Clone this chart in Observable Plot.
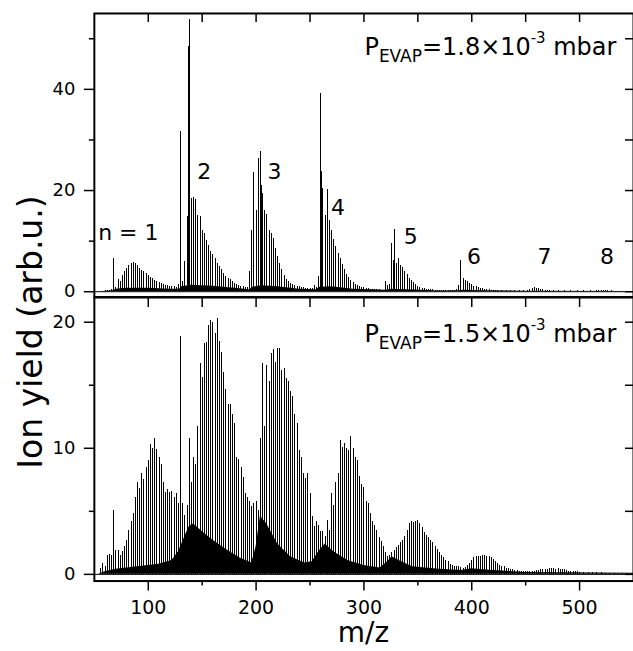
<!DOCTYPE html>
<html><head><meta charset="utf-8">
<script src="https://cdn.jsdelivr.net/npm/d3@7"></script>
<script src="https://cdn.jsdelivr.net/npm/@observablehq/plot@0.6"></script>
<style>
html,body{margin:0;padding:0;background:#fff;overflow:hidden;}
#wrap{position:relative;width:633px;height:651px;overflow:hidden;background:#fff;font-family:"DejaVu Sans",sans-serif;}
#wrap svg{display:block;position:relative;}
#ytitle{position:absolute;left:30px;top:332px;transform:translate(-50%,-50%) rotate(-90deg);font-size:33px;white-space:nowrap;line-height:1;color:#000;z-index:2;}
</style></head><body><div id="wrap"><div id="ytitle">Ion yield (arb.u.)</div></div>
<script>
// ---- data: [m/z, ion yield] ----
const topSticks = [
[56,0.1],[58,0.1],[60,0.2],[62,0.25],[64,0.3],[66,0.5],[68,6.6],[70,0.8],[72,2.5],[74,2.0],[76,3.3],[78,3.9],[80,4.6],[82,5.2],[84,5.6],[86,5.7],[88,5.5],[90,5.1],[92,4.6],[94,4.2],[96,3.9],[98,3.6],[100,3.2],[102,2.9],[104,2.6],[106,2.3],[108,2.0],[110,1.8],[112,1.6],[114,1.4],[116,1.3],[118,1.2],[120,1.1],[122,1.0],[124,1.0],[126,0.9],[128,1.5],
[130,31.6],[132,2.0],[134,6.0],[136,14.8],[137,48.4],[138,53.8],[140,18.4],[142,18.6],[144,18.2],[146,15.1],[148,14.8],[150,12.2],[152,11.5],[154,10.2],[156,9.2],[158,8.0],[160,7.3],[162,6.5],[164,5.6],[166,5.0],[168,4.3],[170,3.6],[172,3.1],[174,2.7],[176,2.4],[178,2.0],[180,1.7],[182,1.5],[184,1.3],[186,1.1],[188,1.0],[190,0.9],[192,0.8],
[194,3.9],[196,12.1],[198,23.6],[200,16.1],[202,26.4],[204,27.8],[205,21.0],[206,19.5],[208,16.0],[210,15.2],[212,12.2],[214,11.5],[216,10.6],[218,8.6],[220,7.0],[222,5.6],[224,4.3],[226,3.2],[228,2.5],[230,2.0],[232,1.7],[234,1.4],[236,1.2],[238,1.1],[240,1.0],[242,0.9],[244,0.8],[246,0.7],[248,0.7],[250,0.6],[252,0.6],[254,1.3],[256,0.8],[258,3.0],
[260,39.2],[261,23.7],[262,20.5],[264,15.0],[266,20.2],[268,14.0],[270,12.2],[272,10.3],[274,8.9],[276,7.6],[278,6.6],[280,5.4],[282,4.4],[284,3.5],[286,2.8],[288,2.3],[290,1.8],[292,1.5],[294,1.2],[296,1.0],[298,0.9],[300,0.8],[302,0.7],[304,0.6],[306,0.5],[308,0.5],[310,0.4],[312,0.4],[314,0.35],[316,0.3],[318,0.3],
[320,2.0],[322,1.3],[324,1.4],[326,9.5],[327,6.2],[328,12.3],[330,5.6],[332,6.6],[334,5.2],[336,4.7],[338,4.0],[340,3.4],[342,2.7],[344,2.2],[346,1.8],[348,1.4],[350,1.1],[352,0.9],[354,0.7],[356,0.6],[358,0.5],[360,0.45],[362,0.4],[364,0.35],[366,0.3],[368,0.3],[370,0.25],[372,0.25],[374,0.2],[376,0.2],[378,0.2],[380,0.2],[382,0.2],[384,0.25],
[386,0.4],[388,1.3],[390,6.1],[392,2.6],[394,2.2],[396,2.0],[398,1.7],[400,1.4],[402,1.1],[404,1.0],[406,0.9],[408,0.7],[410,0.6],[412,0.5],[414,0.4],[416,0.35],[418,0.3],[420,0.25],[422,0.2],[424,0.2],[428,0.15],[432,0.15],[436,0.15],[440,0.15],[444,0.15],[448,0.15],
[452,0.2],[454,0.4],[456,0.7],[458,0.8],[460,0.7],[462,0.6],[464,0.5],[466,0.4],[468,0.3],[470,0.25],[472,0.2],[476,0.15],[480,0.15],[486,0.15],[492,0.15],[498,0.15],[504,0.15],[510,0.15],[516,0.15],
[518,0.2],[520,0.3],[522,0.3],[524,0.25],[526,0.2],[530,0.15],[536,0.12],[542,0.1],[548,0.1]
];
const topBackground = [
[56,0],[60,0.1],[67,0.2],[70,0.5],[80,0.7],[100,0.7],[120,0.5],[129,0.5],[131,1.0],[140,1.3],[160,1.1],[180,0.7],[194,0.4],[197,0.9],[205,1.2],[220,1.0],[240,0.5],[256,0.4],[259,0.9],[270,1.0],[290,0.5],[320,0.3],[326,0.5],[340,0.4],[370,0.15],[388,0.2],[392,0.3],[410,0.2],[450,0.1],[550,0.05]
];
const bottomSticks = [
[56,0.5],[58,0.9],[60,0.6],[62,1.5],[64,1.6],[66,1.5],[68,5.1],[70,1.9],[72,1.9],[74,1.5],[76,1.8],[78,2.2],[80,2.7],[82,3.5],[84,4.2],[86,4.8],[88,6.1],[90,7.3],[92,6.8],[94,8.0],[96,7.5],[98,8.5],[100,9.0],[102,10.3],[104,10.0],[106,10.8],[108,9.9],[110,9.3],[112,8.7],[114,7.3],[116,6.5],[118,6.7],[120,6.5],[122,6.6],[124,6.1],[126,6.4],[128,5.6],
[130,18.9],[132,5.6],[134,4.7],[136,5.5],[138,10.8],[140,7.3],[142,9.3],[144,8.7],[146,11.7],[148,16.7],[150,15.6],[152,18.3],[154,18.4],[156,19.7],[158,20.1],[160,20.0],[162,19.1],[164,20.3],[166,18.5],[168,17.6],[170,16.0],[172,14.7],[174,13.5],[176,13.5],[178,12.7],[180,12.0],[182,9.3],[184,9.1],[186,8.5],[188,7.7],[190,6.4],[192,6.1],[194,5.8],[196,5.4],[198,5.6],
[200,5.8],[202,5.1],[204,10.8],[206,16.7],[208,11.7],[210,16.6],[212,15.3],[214,17.5],[216,17.8],[218,16.8],[220,17.9],[222,17.9],[224,16.2],[226,16.3],[228,15.5],[230,15.3],[232,14.5],[234,14.1],[236,12.7],[238,12.0],[240,9.8],[242,9.3],[244,8.0],[246,7.6],[248,8.0],[250,6.4],[252,4.6],[254,3.8],[256,4.2],[258,3.9],[260,3.4],[262,3.4],[264,3.0],[266,4.3],[268,3.5],
[270,6.4],[272,5.5],[274,7.3],[276,8.0],[278,10.6],[280,10.1],[282,10.4],[284,10.0],[286,9.8],[288,10.9],[290,10.0],[292,9.3],[294,9.0],[296,7.8],[298,7.1],[300,6.9],[302,5.8],[304,5.6],[306,4.8],[308,4.2],[310,3.9],[312,3.5],[314,2.9],[316,2.6],[318,2.2],[320,1.7],[322,1.4],
[324,1.5],[326,1.7],[328,1.9],[330,2.1],[332,2.3],[334,2.5],[336,2.7],[338,3.0],[340,3.5],[342,4.0],[344,4.2],[346,4.1],[348,4.2],[350,4.25],[352,4.0],[354,3.7],[356,3.3],[358,3.1],[360,2.9],[362,2.7],[364,2.5],[366,2.2],[368,2.0],[370,1.7],[372,1.5],[374,1.3],[376,1.1],[378,1.0],[380,0.8],[382,0.7],[384,0.65],[386,0.6],[388,0.6],[390,0.55],[392,0.5],
[394,0.55],[396,0.7],[398,0.9],[400,1.1],[402,1.3],[404,1.4],[406,1.4],[408,1.45],[410,1.5],[412,1.5],[414,1.45],[416,1.4],[418,1.3],[420,1.15],[422,1.0],[424,0.85],[426,0.7],[428,0.65],[430,0.6],[432,0.5],[434,0.5],[436,0.4],[438,0.4],[440,0.3],[442,0.3],[444,0.25],[446,0.2],[448,0.2],[450,0.2],[452,0.2],[454,0.2],[456,0.2],
[458,0.25],[460,0.3],[462,0.3],[464,0.35],[466,0.35],[468,0.4],[470,0.4],[472,0.45],[474,0.45],[476,0.45],[478,0.4],[480,0.45],[482,0.4],[484,0.4],[486,0.35],[488,0.3],[490,0.25],[492,0.25],[494,0.2],[496,0.2],[498,0.2],[500,0.15],[504,0.15],[508,0.15],[512,0.12],[516,0.12],[520,0.12],[524,0.1],[528,0.1],[532,0.1],[536,0.1],[540,0.1],[544,0.1],[548,0.1]
];
const bottomBackground = [
[54,0],[60,0.2],[70,0.4],[90,0.6],[110,0.8],[122,1.1],[128,1.8],[133,2.8],[138,3.8],[142,4.0],[150,3.4],[160,2.7],[172,2.0],[185,1.3],[196,0.9],[200,2.2],[204,4.6],[210,4.0],[220,2.4],[232,1.4],[245,0.9],[252,1.0],[258,1.8],[264,2.4],[272,1.8],[285,1.1],[300,0.7],[315,0.5],[322,1.0],[326,1.4],[335,1.0],[345,0.6],[370,0.4],[390,0.3],[400,0.45],[420,0.3],[450,0.15],[550,0.08]
];
const clusterLabels = [
 {label:"n = 1", mz:81.5, y:11.6},
 {label:"2", mz:152, y:23.6},
 {label:"3", mz:217, y:23.6},
 {label:"4", mz:276, y:16.5},
 {label:"5", mz:343.5, y:10.8},
 {label:"6", mz:402, y:6.85},
 {label:"7", mz:467.5, y:6.85},
 {label:"8", mz:525.5, y:6.85}
];
const pressures = ["1.8", "1.5"];
const xTicks = [100,200,300,400,500];
const xMinor = [150,250,350,450];
const xAllTicks = [100,150,200,250,300,350,400,450,500];
const topYTicks = [0,20,40];
const topYMinor = [10,30,50];
const topYRight = [0,10,20,30,40,50];
const botYTicks = [0,10,20];
const botYMinor = [5,15];
const botYRight = [0,5,10,15,20];

// ---- layout ----
const W = 634, ML = 94, PW = W - ML;
const font = "'DejaVu Sans', sans-serif";
const TW = 1.5, SW = 1;

const topPlot = Plot.plot({
  width: W, height: 297, marginLeft: ML, marginRight: 0, marginTop: 13, marginBottom: 0,
  x: {domain: [50, 550], axis: null},
  y: {domain: [-1.05, 55.0]},
  style: {fontFamily: font, background: "transparent", color: "black", overflow: "visible"},
  marks: [
    Plot.areaY(topBackground, {x: d => d[0], y: d => d[1], fill: "black"}),
    Plot.ruleX(topSticks, {x: d => d[0], y1: 0, y2: d => d[1], stroke: "black", strokeWidth: SW, shapeRendering: "crispEdges"}),
    Plot.ruleY([0], {stroke: "black", strokeWidth: 1}),
    Plot.text(clusterLabels, {x: "mz", y: "y", text: "label", fontSize: 22, fill: "black"}),
    Plot.axisY(topYTicks, {tickSize: 10, tickPadding: 9, fontSize: 18, strokeWidth: TW, label: null}),
    Plot.axisY(topYMinor, {tickSize: 5, tickFormat: () => "", strokeWidth: TW, label: null}),
    Plot.tickY(topYRight, {y: d => d, insetLeft: PW - 8, stroke: "black", strokeWidth: TW}),
    Plot.tickX(xAllTicks, {x: d => d, insetBottom: 284 - 9, stroke: "black", strokeWidth: TW}),
    Plot.frame({stroke: "black", strokeWidth: 2})
  ]
});

const botPlot = Plot.plot({
  width: W, height: 354, marginLeft: ML, marginRight: 0, marginTop: 0, marginBottom: 70,
  x: {domain: [50, 550]},
  y: {domain: [-0.53, 21.96]},
  style: {fontFamily: font, background: "transparent", color: "black", overflow: "visible"},
  marks: [
    Plot.areaY(bottomBackground, {x: d => d[0], y: d => d[1], fill: "black"}),
    Plot.ruleX(bottomSticks, {x: d => d[0], y1: 0, y2: d => d[1], stroke: "black", strokeWidth: SW, shapeRendering: "crispEdges"}),
    Plot.ruleY([0], {stroke: "black", strokeWidth: 1}),
    Plot.axisY(botYTicks, {tickSize: 10, tickPadding: 9, fontSize: 18, strokeWidth: TW, label: null}),
    Plot.axisY(botYMinor, {tickSize: 5, tickFormat: () => "", strokeWidth: TW, label: null}),
    Plot.tickY(botYRight, {y: d => d, insetLeft: PW - 8, stroke: "black", strokeWidth: TW}),
    Plot.tickX(xAllTicks, {x: d => d, insetBottom: 284 - 10, stroke: "black", strokeWidth: TW}),
    Plot.axisX(xTicks, {tickSize: 10, tickPadding: 10, fontSize: 19, strokeWidth: TW, label: null}),
    Plot.axisX(xMinor, {tickSize: 5, tickFormat: () => "", strokeWidth: TW, label: null}),
    Plot.frame({stroke: "black", strokeWidth: 2})
  ]
});

function addPressure(svg, value, baseY) {
  const t = d3.select(svg).append("text")
    .attr("x", 365).attr("y", baseY).attr("text-anchor", "start")
    .attr("font-family", font).attr("font-size", 24).attr("fill", "black");
  t.append("tspan").text("P");
  t.append("tspan").attr("font-size", 17).attr("dy", 7).text("EVAP");
  t.append("tspan").attr("dy", -7).text("=" + value + "×10");
  t.append("tspan").attr("font-size", 15).attr("dy", -12).text("-3");
  t.append("tspan").attr("dy", 12).text(" mbar");
}
addPressure(topPlot, pressures[0], 55.5);
addPressure(botPlot, pressures[1], 45);

d3.select(botPlot).append("text")
  .attr("x", ML + PW / 2).attr("y", 346)
  .attr("text-anchor", "middle")
  .attr("font-family", font).attr("font-size", 28).attr("fill", "black")
  .text("m/z");

const wrap = document.getElementById("wrap");
wrap.appendChild(topPlot);
wrap.appendChild(botPlot);
</script></body></html>
